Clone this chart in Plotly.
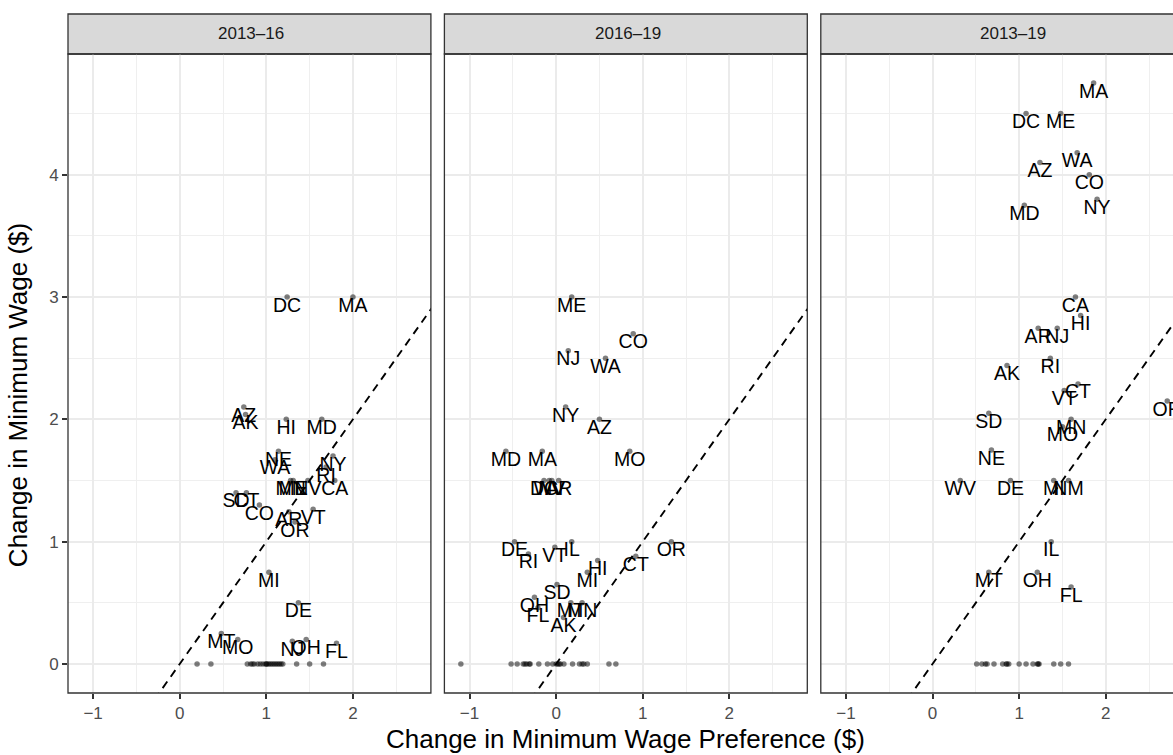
import plotly.graph_objects as go

# ---------------- data ----------------
panel_titles = ["2013–16", "2016–19", "2013–19"]

# 2013–16 (labelled states)
states_1 = ["DC", "MA", "AZ", "AK", "HI", "MD", "NE", "WA", "NY", "RI", "CA", "MN", "ME",
            "NV", "SD", "CT", "CO", "AR", "VT", "OR", "MI", "DE", "MT", "MO", "NJ", "OH", "FL"]
pref_1 = [1.24, 2.00, 0.74, 0.76, 1.23, 1.64, 1.14, 1.10, 1.77, 1.69, 1.79, 1.28, 1.31,
          1.48, 0.65, 0.77, 0.92, 1.26, 1.54, 1.33, 1.03, 1.37, 0.48, 0.67, 1.30, 1.46, 1.81]
wage_1 = [3.00, 3.00, 2.10, 2.04, 2.00, 2.00, 1.74, 1.67, 1.70, 1.61, 1.50, 1.50, 1.50,
          1.50, 1.40, 1.40, 1.30, 1.245, 1.265, 1.16, 0.75, 0.50, 0.25, 0.20, 0.185, 0.20, 0.17]
zero_pref_1 = [0.20, 0.36, 0.78, 0.82, 0.84, 0.86, 0.90, 0.93, 0.96, 0.99, 1.00, 1.01,
               1.03, 1.05, 1.07, 1.09, 1.11, 1.13, 1.15, 1.17, 1.19, 1.35, 1.50, 1.66]

# 2016–19
states_2 = ["ME", "CO", "NJ", "WA", "NY", "AZ", "MD", "MA", "MO", "DC", "WV", "NV", "AR",
            "DE", "RI", "VT", "IL", "HI", "CT", "OR", "MI", "SD", "OH", "FL", "MT", "MN", "AK"]
pref_2 = [0.18, 0.89, 0.14, 0.57, 0.11, 0.50, -0.58, -0.16, 0.85, -0.14, -0.08, -0.05, 0.03,
          -0.48, -0.32, -0.015, 0.18, 0.48, 0.92, 1.33, 0.36, 0.01, -0.25, -0.21, 0.17, 0.30, 0.085]
wage_2 = [3.00, 2.70, 2.56, 2.50, 2.10, 2.00, 1.74, 1.74, 1.74, 1.50, 1.50, 1.50, 1.50,
          1.00, 0.90, 0.955, 1.00, 0.845, 0.88, 1.00, 0.75, 0.65, 0.545, 0.46, 0.50, 0.50, 0.38]
zero_pref_2 = [-1.10, -0.52, -0.45, -0.38, -0.36, -0.34, -0.31, -0.30, -0.20, -0.10, -0.04,
               0.00, 0.02, 0.035, 0.05, 0.09, 0.19, 0.27, 0.30, 0.32, 0.36, 0.61, 0.69]

# 2013–19
states_3 = ["MA", "DC", "ME", "WA", "AZ", "CO", "NY", "MD", "CA", "HI", "AR", "NJ", "RI", "AK",
            "CT", "VT", "OR", "SD", "MN", "MO", "NE", "WV", "DE", "MI", "NM", "IL", "MT", "OH", "FL"]
pref_3 = [1.86, 1.08, 1.48, 1.67, 1.24, 1.81, 1.90, 1.06, 1.65, 1.71, 1.22, 1.44, 1.36, 0.86,
          1.68, 1.52, 2.71, 0.65, 1.60, 1.50, 0.68, 0.32, 0.90, 1.40, 1.57, 1.37, 0.65, 1.21, 1.60]
wage_3 = [4.75, 4.50, 4.50, 4.18, 4.10, 4.00, 3.80, 3.75, 3.00, 2.85, 2.745, 2.745, 2.50, 2.44,
          2.29, 2.235, 2.15, 2.05, 2.00, 1.94, 1.75, 1.50, 1.50, 1.50, 1.50, 1.00, 0.75, 0.75, 0.63]
zero_pref_3 = [0.51, 0.57, 0.61, 0.63, 0.71, 0.81, 0.85, 0.86, 0.88, 1.00, 1.08, 1.16,
               1.21, 1.22, 1.23, 1.40, 1.48, 1.57]

abline_slope = 1.0
abline_intercept = 0.0

x_ticks = [-1, 0, 1, 2]
y_ticks = [0, 1, 2, 3, 4]

# ---------------- style ----------------
FONT = "Liberation Sans, Arial, Helvetica, sans-serif"
W, H = 1173, 755
ML, MR, MT, MB = 67.7, 0, 14, 61.7
PW = W - ML - MR
PH = H - MT - MB

def px_x(p):
    return (p - ML) / PW

def px_y(p):
    return (H - MB - p) / PH

panels_px = [(67.7, 430.7), (444.2, 807.2), (820.7, 1183.7)]
strip_text_shift = [2, 2, 11]
top_px, bot_px = 54.0, 693.3
strip_top_px = 14.0

x_lo, x_hi = -1.29, 2.90
units_per_px = (x_hi - x_lo) / (panels_px[0][1] - panels_px[0][0])
y_range = [-0.2375, 4.9875]

data_sets = [
    (states_1, pref_1, wage_1, zero_pref_1),
    (states_2, pref_2, wage_2, zero_pref_2),
    (states_3, pref_3, wage_3, zero_pref_3),
]

fig = go.Figure()
dot_color = "rgba(0,0,0,0.5)"

for i, (st, xp, yw, zp) in enumerate(data_sets):
    xa = "x" if i == 0 else f"x{i+1}"
    ya = "y" if i == 0 else f"y{i+1}"
    # y = x dashed reference line
    x0, x1 = -3.0, 6.0
    fig.add_shape(type="line", xref=xa, yref=ya,
                  x0=x0, y0=abline_intercept + abline_slope * x0,
                  x1=x1, y1=abline_intercept + abline_slope * x1,
                  line=dict(color="black", width=1.9, dash="8px,6px"), layer="above")
    # zero points
    fig.add_trace(go.Scatter(
        x=zp, y=[0] * len(zp), mode="markers", xaxis=xa, yaxis=ya,
        marker=dict(size=5.5, color=dot_color, line=dict(width=0)),
        hoverinfo="skip", showlegend=False))
    # labelled points
    fig.add_trace(go.Scatter(
        x=xp, y=yw, mode="markers", xaxis=xa, yaxis=ya,
        marker=dict(size=5.5, color=dot_color, line=dict(width=0)),
        hoverinfo="skip", showlegend=False))
    fig.add_trace(go.Scatter(
        x=xp, y=yw, mode="text", text=st, xaxis=xa, yaxis=ya,
        textposition="bottom center",
        textfont=dict(family=FONT, size=19.5, color="black"),
        cliponaxis=True, hoverinfo="skip", showlegend=False))

axis_common = dict(
    showgrid=True, gridcolor="#EBEBEB", gridwidth=1.9, zeroline=False,
    ticks="outside", ticklen=5, tickwidth=1.9, tickcolor="#333333",
    tickfont=dict(family=FONT, size=17, color="#4D4D4D"),
    showline=False,
    minor=dict(dtick=0.5, showgrid=True, gridcolor="#EFEFEF", gridwidth=1.0, ticks=""),
)

layout = dict(
    width=W, height=H,
    margin=dict(l=ML, r=MR, t=MT, b=MB, pad=0),
    paper_bgcolor="white", plot_bgcolor="white",
    showlegend=False,
)

dom_y = [0, px_y(top_px)]
for i, (a, b) in enumerate(panels_px):
    d0 = px_x(a)
    d1 = min(1.0, px_x(b))
    xr_hi = x_lo + (min(b, W) - a) * units_per_px
    xk = "xaxis" if i == 0 else f"xaxis{i+1}"
    yk = "yaxis" if i == 0 else f"yaxis{i+1}"
    xa_anchor = "y" if i == 0 else f"y{i+1}"
    ya_anchor = "x" if i == 0 else f"x{i+1}"
    layout[xk] = dict(axis_common, domain=[d0, d1], range=[x_lo, xr_hi], anchor=xa_anchor,
                      tickmode="array", tickvals=x_ticks,
                      ticktext=[("−" + str(-t)) if t < 0 else str(t) for t in x_ticks])
    layout[yk] = dict(axis_common, domain=dom_y, range=y_range, anchor=ya_anchor,
                      tickmode="array", tickvals=y_ticks,
                      showticklabels=(i == 0), ticks="outside" if i == 0 else "")

fig.update_layout(**layout)

# panel borders and strips
for i, (a, b) in enumerate(panels_px):
    fig.add_shape(type="rect", xref="paper", yref="paper",
                  x0=px_x(a), x1=px_x(b), y0=px_y(top_px), y1=px_y(strip_top_px),
                  fillcolor="#D9D9D9", line=dict(color="#333333", width=1.3), layer="below")
    fig.add_shape(type="rect", xref="paper", yref="paper",
                  x0=px_x(a), x1=px_x(b), y0=px_y(bot_px), y1=px_y(top_px),
                  fillcolor="rgba(0,0,0,0)", line=dict(color="#333333", width=1.3), layer="above")
    fig.add_annotation(xref="paper", yref="paper",
                       x=px_x((a + b) / 2 + strip_text_shift[i]), y=px_y((top_px + strip_top_px) / 2),
                       text=panel_titles[i], showarrow=False, xanchor="center", yanchor="middle",
                       font=dict(family=FONT, size=17, color="#1A1A1A"))

# axis titles
fig.add_annotation(xref="paper", yref="paper", x=px_x(625.5), y=px_y(739),
                   text="Change in Minimum Wage Preference ($)", showarrow=False,
                   xanchor="center", yanchor="middle", font=dict(family=FONT, size=26, color="black"))
fig.add_annotation(xref="paper", yref="paper", x=px_x(18), y=px_y(395),
                   text="Change in Minimum Wage ($)", showarrow=False, textangle=-90,
                   xanchor="center", yanchor="middle", font=dict(family=FONT, size=26, color="black"))

fig.write_html("out.html")
